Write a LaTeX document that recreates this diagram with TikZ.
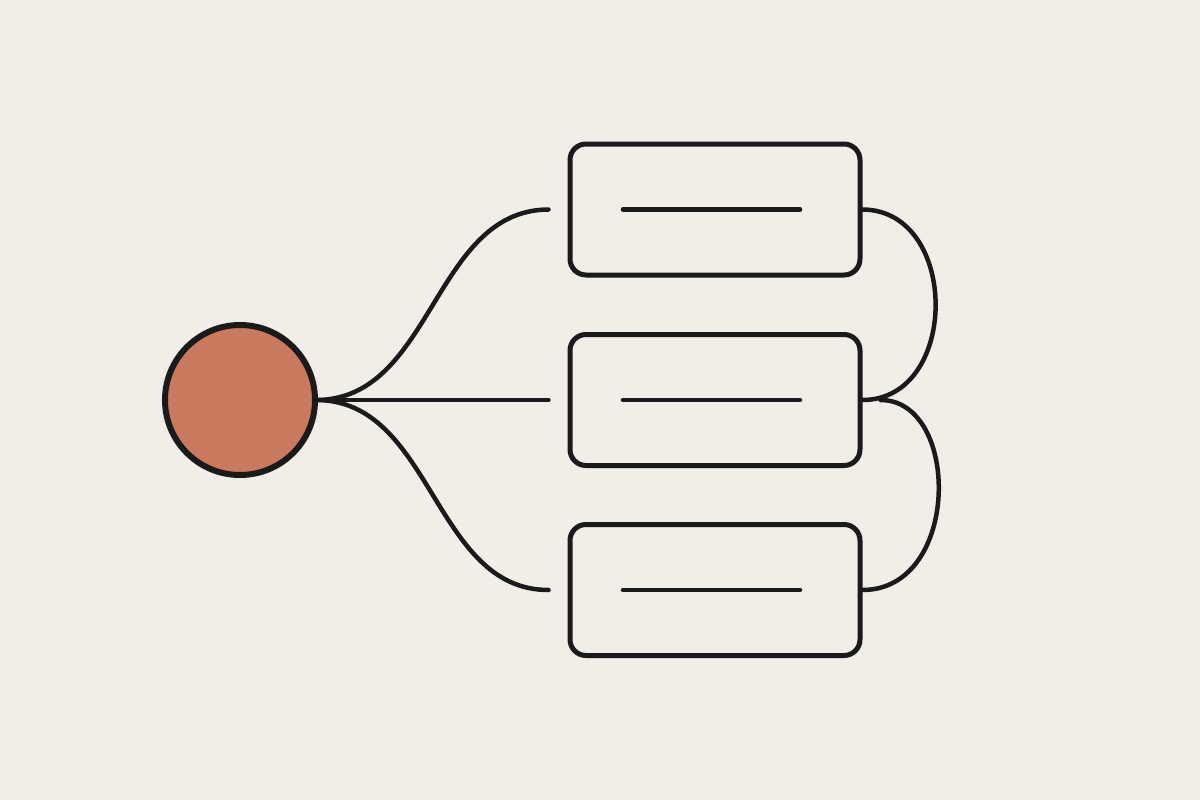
\documentclass[tikz,border=0pt]{standalone}
\definecolor{bg}{HTML}{F0EEE7}
\definecolor{ink}{HTML}{1A1A1A}
\definecolor{clay}{HTML}{C97A5E}
\begin{document}
\begin{tikzpicture}[x=1pt,y=-1pt,
  hub/.style={circle,draw=ink,fill=clay,line width=6pt,minimum size=150pt,inner sep=0pt},
  card/.style={rectangle,draw=ink,line width=5pt,rounded corners=16pt,minimum width=290pt,minimum height=131pt,inner sep=0pt},
  wire/.style={draw=ink,line width=4.5pt,line cap=round},
  bar/.style={draw=ink,line width=4.5pt,line cap=round}]
\fill[bg] (0,0) rectangle (1200,800);
\useasboundingbox (0,0) rectangle (1200,800);
\node[hub] (c) at (240,400) {};
\node[card] (b1) at (715,209.5) {};
\node[card] (b2) at (715,400) {};
\node[card] (b3) at (715,590) {};
\foreach \b in {b1,b2,b3}{
  \coordinate (\b l) at ([xshift=-92pt]\b.center);
  \coordinate (\b r) at ([xshift=85pt]\b.center);
  \coordinate (\b in) at ([xshift=-19pt]\b.west);
  \draw[bar] (\b l) -- (\b r);
}
\coordinate (c0) at ([xshift=-2pt]c.east);
\draw[wire] (c0) .. controls (433,400) and (433,210) .. (b1in);
\draw[wire] (c0) -- (b2in);
\draw[wire] (c0) .. controls (433,400) and (433,590) .. (b3in);
\coordinate (b2x) at ([xshift=18pt]b2.east);
\draw[wire] (b1.east) .. controls (960,210) and (960,400) .. (b2.east);
\draw[wire] (b2x) .. controls (961,400) and (961,590) .. (b3.east);
\end{tikzpicture}
\end{document}
